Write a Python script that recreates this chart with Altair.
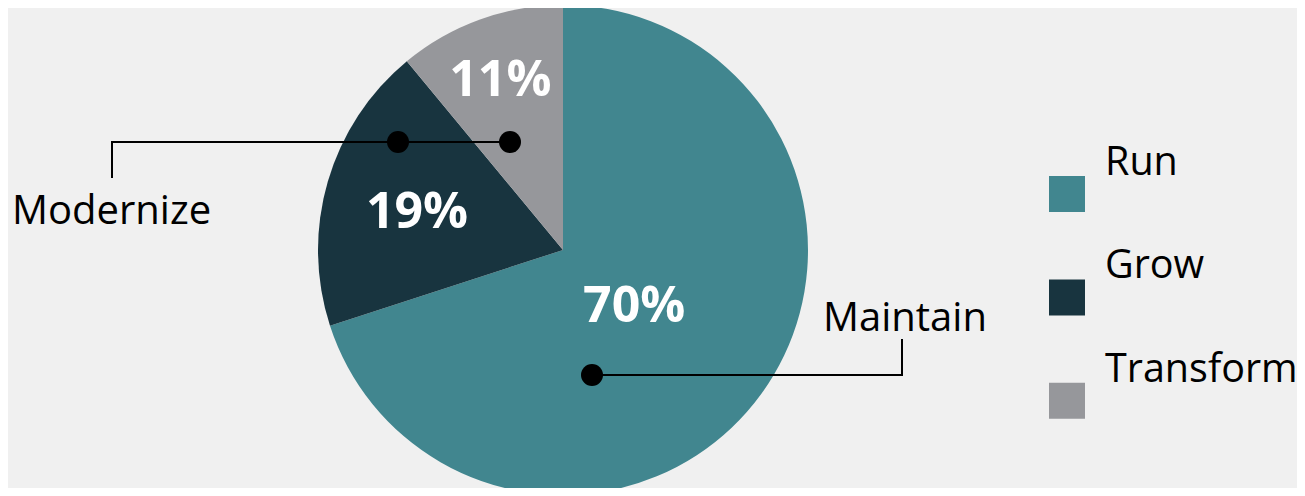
import altair as alt
import pandas as pd

# ---- data ----
CATEGORIES = ["Run", "Grow", "Transform"]
SHARES = [70, 19, 11]
PCT_LABELS = ["70%", "19%", "11%"]
COLORS = ["#41868f", "#18343f", "#96979b"]

ANN_TEXT = ["Modernize", "Maintain"]

# ---- layout (chart pixel coords) ----
W, H = 1289, 480
CX, CY = 555, 242
R = 245
BG = "#f0f0f0"
FONT = "Open Sans"
LEG_X, LEG_Y0, LEG_STEP = 1059, 186, 103.4
LEG_TXT_X, LEG_TXT_DY = 1097, -19

df = pd.DataFrame({
    "cat": CATEGORIES,
    "share": SHARES,
    "label": PCT_LABELS,
    "idx": list(range(len(CATEGORIES))),
})

color_scale = alt.Scale(domain=CATEGORIES, range=COLORS)
xs = alt.Scale(domain=[0, W], range=[0, W])
ys = alt.Scale(domain=[0, H], range=[0, H])

pie = alt.Chart(df).mark_arc(radius=R, stroke=None).encode(
    theta=alt.Theta("share:Q", stack=True),
    order=alt.Order("idx:Q"),
    x=alt.value(CX),
    y=alt.value(CY),
    color=alt.Color("cat:N", sort=CATEGORIES, scale=color_scale, legend=None),
)

# percentage labels placed at each slice's mid angle (computed from the data)
pct = alt.Chart(df).transform_window(
    cum="sum(share)", sort=[alt.SortField("idx")]
).transform_joinaggregate(
    tot="sum(share)"
).transform_calculate(
    lr="datum.cat == 'Run' ? 88 : (datum.cat == 'Grow' ? 152 : 185)",
    ang="(datum.cum - datum.share / 2) / datum.tot * 2 * PI",
).transform_calculate(
    px=f"{CX} + datum.lr * sin(datum.ang)",
    py=f"{CY} - datum.lr * cos(datum.ang)",
).mark_text(
    font=FONT, fontSize=50, fontWeight="bold", color="white",
    align="center", baseline="middle", dy=5,
).encode(
    x=alt.X("px:Q", scale=xs, axis=None),
    y=alt.Y("py:Q", scale=ys, axis=None),
    text="label:N",
)

# ---- manual legend (labels sit above-right of the swatches) ----
leg = alt.Chart(df).transform_calculate(
    sy=f"{LEG_Y0} + datum.idx * {LEG_STEP}",
    sx=f"{LEG_X}",
    ty=f"{LEG_Y0} + datum.idx * {LEG_STEP} + ({LEG_TXT_DY})",
    tx=f"{LEG_TXT_X}",
)
leg_sq = leg.mark_square(size=1296, opacity=1, filled=True).encode(
    x=alt.X("sx:Q", scale=xs, axis=None),
    y=alt.Y("sy:Q", scale=ys, axis=None),
    color=alt.Color("cat:N", sort=CATEGORIES, scale=color_scale, legend=None),
)
leg_txt = leg.mark_text(
    font=FONT, fontSize=39.5, color="#000000", align="left", baseline="alphabetic"
).encode(
    x=alt.X("tx:Q", scale=xs, axis=None),
    y=alt.Y("ty:Q", scale=ys, axis=None),
    text="cat:N",
)

# ---- annotations (leader lines, dots, labels) ----
path_df = pd.DataFrame({
    "g": ["m", "m", "m", "a", "a", "a"],
    "o": [0, 1, 2, 0, 1, 2],
    "px": [104, 104, 502, 584, 894, 894],
    "py": [170, 134, 134, 367, 367, 331],
})
dots_df = pd.DataFrame({"px": [390, 502, 584], "py": [134, 134, 367]})
txt_df = pd.DataFrame({"t": ANN_TEXT, "px": [4, 815], "py": [216, 323]})

lines = alt.Chart(path_df).mark_line(color="#000000", strokeWidth=2).encode(
    x=alt.X("px:Q", scale=xs, axis=None),
    y=alt.Y("py:Q", scale=ys, axis=None),
    detail="g:N",
    order="o:Q",
)
dots = alt.Chart(dots_df).mark_point(filled=True, color="#000000", size=484, opacity=1).encode(
    x=alt.X("px:Q", scale=xs, axis=None),
    y=alt.Y("py:Q", scale=ys, axis=None),
)
ann = alt.Chart(txt_df).mark_text(
    font=FONT, fontSize=40, color="#000000", align="left", baseline="alphabetic"
).encode(
    x=alt.X("px:Q", scale=xs, axis=None),
    y=alt.Y("py:Q", scale=ys, axis=None),
    text="t:N",
)

chart = alt.layer(pie, pct, lines, dots, ann, leg_sq, leg_txt).properties(
    width=W, height=H,
    autosize=alt.AutoSizeParams(type="none"),
    padding=0,
    background=BG,
).configure_view(stroke=None)

chart.save("out.html", embed_options={"renderer": "svg", "actions": False})
